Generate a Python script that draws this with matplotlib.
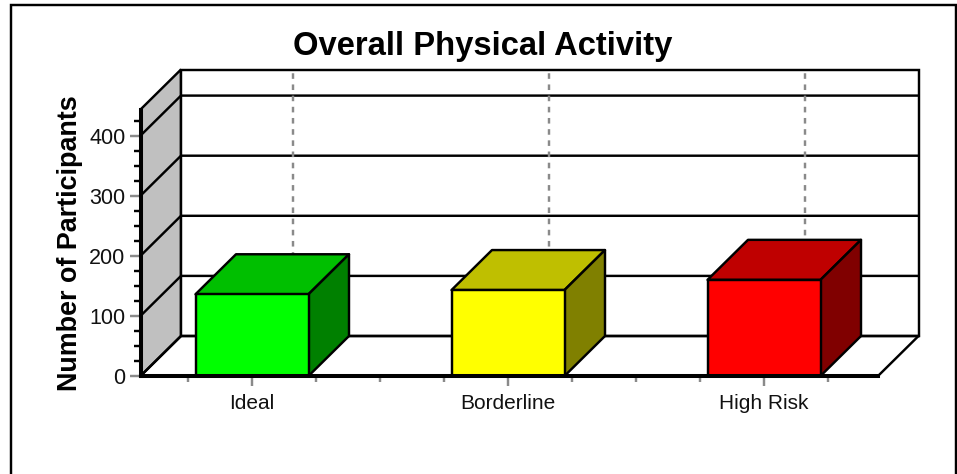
import matplotlib
matplotlib.use("Agg")
import matplotlib.pyplot as plt
from matplotlib.patches import Polygon, Rectangle
from matplotlib.ticker import MultipleLocator, NullFormatter

plt.rcParams['font.family'] = ['Liberation Sans', 'DejaVu Sans']

# ---- data ----
categories = ["Ideal", "Borderline", "High Risk"]
participants = [136, 143, 160]
y_ticks = [0, 100, 200, 300, 400]
title = "Overall Physical Activity"
y_label = "Number of Participants"

# ---- styles ----
front_colors = ["#00FF00", "#FFFF00", "#FF0000"]
top_colors = ["#00BF00", "#BFBF00", "#BF0000"]
side_colors = ["#008000", "#808000", "#800000"]
W, H = 957, 474
PX_PER_CAT = 256.0
PX_PER_UNIT = 0.601
DX_PX, DY_PX = 40.5, 40.0
LW = 1.75
px = 0.72

fig = plt.figure(figsize=(W / 100, H / 100), dpi=100, facecolor="white")
fig.add_artist(Rectangle((10.5 / W, -0.1), 945 / W, 1.1 - 5.5 / H, transform=fig.transFigure,
                         fill=False, edgecolor="black", linewidth=LW))

left, right, base, top = 140.5, 878.0, 376.0, 109.5
ax = fig.add_axes([left / W, (H - base) / H, (right - left) / W, (base - top) / H])
ax.patch.set_visible(False)
xmin = (left - 252.0) / PX_PER_CAT
xmax = (right - 252.0) / PX_PER_CAT
ymax = (base - top) / PX_PER_UNIT
ax.set_xlim(xmin, xmax)
ax.set_ylim(0, ymax)
dx = DX_PX / PX_PER_CAT
dy = DY_PX / PX_PER_UNIT

# side wall
ax.add_patch(Polygon([(xmin, 0), (xmin + dx, dy), (xmin + dx, ymax + dy), (xmin, ymax)],
                     closed=True, facecolor="#C0C0C0", edgecolor="black", linewidth=LW,
                     clip_on=False, zorder=1))
# back wall frame and floor outline
ax.add_patch(Polygon([(xmin + dx, dy), (xmax + dx, dy), (xmax + dx, ymax + dy), (xmin + dx, ymax + dy)],
                     closed=True, facecolor="white", edgecolor="black", linewidth=LW,
                     clip_on=False, zorder=1))
ax.plot([xmax, xmax + dx], [0, dy], color="black", lw=LW, clip_on=False, zorder=2)

# grid lines across side wall and back wall
for t in y_ticks:
    ax.plot([xmin, xmin + dx, xmax + dx], [t, t + dy, t + dy], color="black", lw=LW,
            clip_on=False, zorder=2)
# dashed category lines on the back wall
for i in range(len(categories)):
    ax.plot([i + dx, i + dx], [dy, ymax + dy], color="#8A8A8A", lw=LW, ls=(0, (2.3, 2.3)),
            clip_on=False, zorder=2)

# bars
half = 56.5 / PX_PER_CAT
for i, v in enumerate(participants):
    x0, x1 = i - half, i + half
    ax.add_patch(Polygon([(x0, v), (x1, v), (x1 + dx, v + dy), (x0 + dx, v + dy)], closed=True,
                         facecolor=top_colors[i], edgecolor="black", linewidth=LW,
                         joinstyle="round", clip_on=False, zorder=3))
    ax.add_patch(Polygon([(x1, 0), (x1 + dx, dy), (x1 + dx, v + dy), (x1, v)], closed=True,
                         facecolor=side_colors[i], edgecolor="black", linewidth=LW,
                         joinstyle="round", clip_on=False, zorder=3))
    ax.add_patch(Polygon([(x0, 0), (x1, 0), (x1, v), (x0, v)], closed=True,
                         facecolor=front_colors[i], edgecolor="black", linewidth=LW,
                         joinstyle="round", clip_on=False, zorder=4))

# axes
for s in ("top", "right"):
    ax.spines[s].set_visible(False)
for s in ("left", "bottom"):
    ax.spines[s].set_linewidth(2.9)
    ax.spines[s].set_zorder(5)

ax.set_xticks(range(len(categories)))
ax.set_xticklabels(categories)
ax.xaxis.set_minor_locator(MultipleLocator(0.25))
ax.xaxis.set_minor_formatter(NullFormatter())
ax.set_yticks(y_ticks)
ax.yaxis.set_minor_locator(MultipleLocator(25))
ax.yaxis.set_minor_formatter(NullFormatter())
ax.tick_params(axis="x", which="major", length=10 * px, width=LW, color="#8A8A8A",
               labelsize=15, pad=8 * px, labelcolor="#111111")
ax.tick_params(axis="x", which="minor", length=6 * px, width=LW, color="#8A8A8A")
ax.tick_params(axis="y", which="major", length=11 * px, width=LW, color="#8A8A8A",
               labelsize=15.5, pad=4 * px, labelcolor="#111111")
ax.tick_params(axis="y", which="minor", length=7 * px, width=LW, color="black")

fig.text(482.5 / W, 1 - 47 / H, title, ha="center", va="center", fontsize=23.6, fontweight="bold",
         color="black")
fig.text(70.5 / W, 1 - 243.5 / H, y_label, ha="center", va="center", rotation=90, fontsize=19.4,
         fontweight="bold", color="black")

fig.savefig("out.png", dpi=100, facecolor="white")
